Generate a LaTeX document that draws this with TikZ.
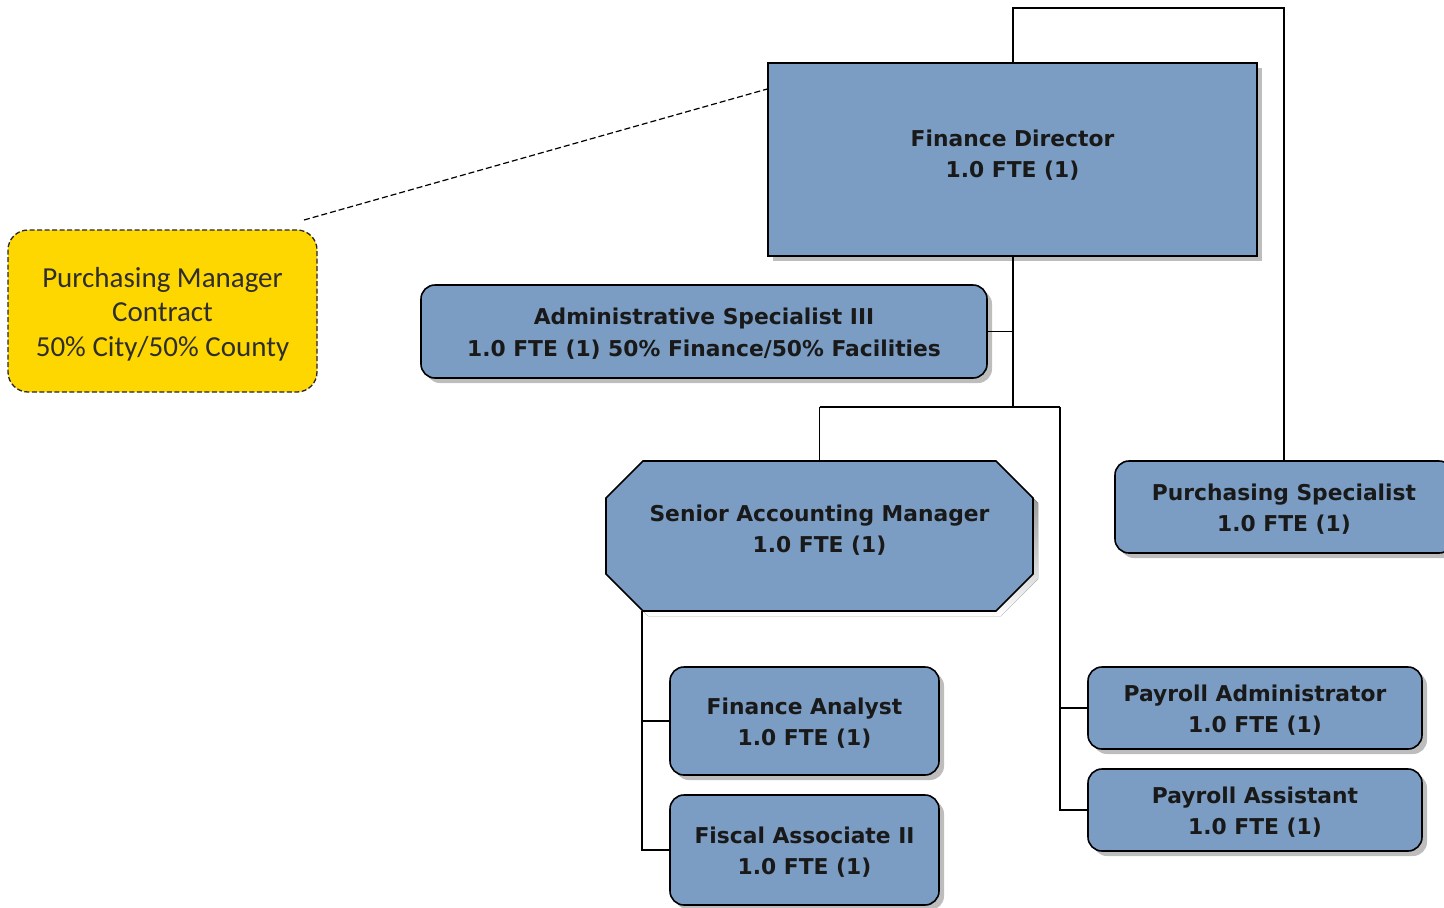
\documentclass[tikz,border=0pt]{standalone}
\usepackage{fontspec}
\newfontfamily\boxfont{DejaVu Sans}
\newfontfamily\yfont{Carlito}
\usetikzlibrary{shadows,calc}
\definecolor{boxblue}{HTML}{7B9DC3}
\definecolor{gold}{HTML}{FFD700}
\definecolor{shade}{HTML}{BDBDBD}
\newcommand{\boxtxt}[2][-2.5pt]{\raisebox{#1}[\height][\depth]{\begin{tabular}{@{}c@{}}#2\end{tabular}}}
\begin{document}
\begin{tikzpicture}[x=1pt,y=-1pt,
  bshadow/.style={drop shadow={shadow xshift=5pt,shadow yshift=-5pt,fill=shade,opacity=1}},
  posbox/.style={draw=black,line width=1.6pt,fill=boxblue,bshadow,inner sep=0pt,
    font=\boxfont\bfseries\fontsize{21.8}{31.5}\selectfont,align=center,text=black!90},
  rbox/.style={posbox,rounded corners=14pt},
  sqbox/.style={posbox},
  conn/.style={line width=1.3pt,draw=black},
  lbl/.style={font=\boxfont\bfseries\fontsize{21.8}{31.5}\selectfont,align=center,text=black!90}
]
\useasboundingbox (0,0) rectangle (1444,908);
% boxes
\node[sqbox,minimum width=489pt,minimum height=193pt] (fd) at (1012.5,159.5) {};
\node[lbl] at (1012.5,155) {Finance Director\\1.0 FTE (1)};
\node[rbox,minimum width=566pt,minimum height=93pt] (as) at (704,331.5)
  {\boxtxt{Administrative Specialist III\\1.0 FTE (1) 50\% Finance/50\% Facilities}};
% senior accounting manager: octagon
\node[inner sep=0pt,minimum width=427pt,minimum height=150pt] (sam) at (819.5,536) {};
\fill[shade,shift={(5,5)}]
  (643,461) -- (996,461) -- (1033,498) -- (1033,574) -- (996,611) -- (643,611) -- (606,574) -- (606,498) -- cycle;
\filldraw[fill=boxblue,draw=black,line width=1.6pt]
  (643,461) -- (996,461) -- (1033,498) -- (1033,574) -- (996,611) -- (643,611) -- (606,574) -- (606,498) -- cycle;
\node[lbl] at (819.5,530) {Senior Accounting Manager\\1.0 FTE (1)};
\node[rbox,minimum width=338pt,minimum height=92pt] (ps) at (1284,507)
  {\boxtxt{Purchasing Specialist\\1.0 FTE (1)}};
\node[rbox,minimum width=269pt,minimum height=108pt] (fa) at (804.5,721)
  {\boxtxt{Finance Analyst\\1.0 FTE (1)}};
\node[rbox,minimum width=269pt,minimum height=110pt] (fia) at (804.5,850)
  {\boxtxt{Fiscal Associate II\\1.0 FTE (1)}};
\node[rbox,minimum width=334pt,minimum height=82pt] (pa) at (1255,708)
  {\boxtxt{Payroll Administrator\\1.0 FTE (1)}};
\node[rbox,minimum width=334pt,minimum height=82pt] (pas) at (1255,810)
  {\boxtxt{Payroll Assistant\\1.0 FTE (1)}};
\node[draw=black!85,line width=1.3pt,dash pattern=on 5pt off 2.5pt,fill=gold,rounded corners=20pt,
  minimum width=309pt,minimum height=162pt,inner sep=0pt,align=center,text=black!82,
  font=\yfont\fontsize{29}{34.5}\selectfont] (pm) at (162.5,311)
  {\boxtxt[-4pt]{Purchasing Manager\\Contract\\50\% City/50\% County}};
% connectors
\coordinate (top) at (1013,8);
\coordinate (j1) at (1013,407);
\coordinate (jl) at (819.5,407);
\coordinate (jr) at (1060,407);
\coordinate (sb) at (642,611);
\coordinate (pmend) at (304,220);
\draw[conn] (fd.north -| top) -- (top) -| (ps.north);
\draw[conn] (fd.south -| top) -- (j1);
\draw[conn] (as.east) -- (as.east -| top);
\draw[conn] (jl) -- (jr);
\draw[conn] (jl) -- (sam.north);
\draw[conn] (jr) |- (pa.west);
\draw[conn] (jr) |- (pas.west);
\draw[conn] (sb) |- (fa.west);
\draw[conn] (sb) |- (fia.west);
\draw[line width=1.2pt,dash pattern=on 6pt off 3pt] (pmend) -- (fd.west |- 0,89);
\end{tikzpicture}
\end{document}
